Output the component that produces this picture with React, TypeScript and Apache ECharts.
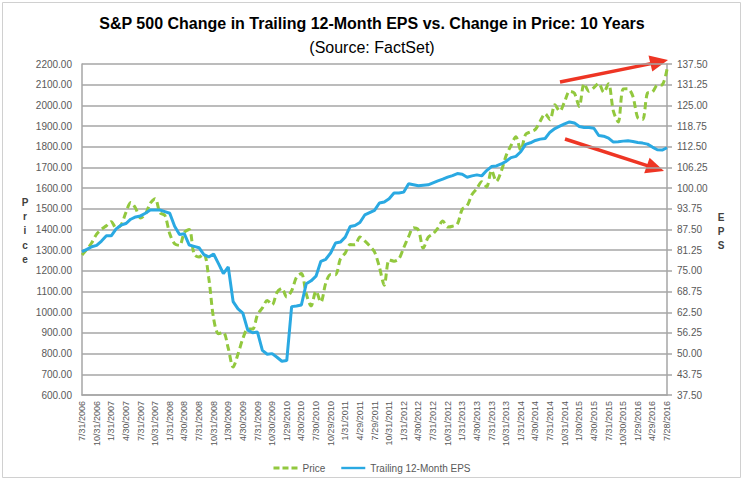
import React, { useEffect, useRef } from "react";
import * as echarts from "echarts";

// Quarter-end tick labels shown on the category axis
const quarterLabels: string[] = [
  "7/31/2006", "10/31/2006", "1/31/2007", "4/30/2007", "7/31/2007", "10/31/2007",
  "1/31/2008", "4/30/2008", "7/31/2008", "10/31/2008", "1/30/2009", "4/30/2009",
  "7/31/2009", "10/30/2009", "1/29/2010", "4/30/2010", "7/30/2010", "10/29/2010",
  "1/31/2011", "4/29/2011", "7/29/2011", "10/31/2011", "1/31/2012", "4/30/2012",
  "7/31/2012", "10/31/2012", "1/31/2013", "4/30/2013", "7/31/2013", "10/31/2013",
  "1/31/2014", "4/30/2014", "7/31/2014", "10/31/2014", "1/30/2015", "4/30/2015",
  "7/31/2015", "10/30/2015", "1/29/2016", "4/29/2016", "7/28/2016",
];

// Monthly S&P 500 price (left axis)
const price: number[] = [
  1277, 1304, 1336, 1378, 1401, 1418,
  1438, 1407, 1421, 1482, 1531, 1503, 1455, 1474, 1527, 1549, 1481, 1468,
  1379, 1331, 1323, 1386, 1400, 1280, 1267, 1283, 1166, 969, 896, 903,
  826, 735, 798, 873, 919, 919, 988, 1021, 1057, 1036, 1096, 1115,
  1074, 1104, 1169, 1187, 1089, 1031, 1102, 1049, 1141, 1183, 1181, 1258,
  1286, 1327, 1326, 1364, 1345, 1321, 1292, 1219, 1131, 1253, 1247, 1258,
  1312, 1366, 1409, 1398, 1310, 1362, 1379, 1407, 1441, 1412, 1416, 1426,
  1498, 1515, 1569, 1598, 1631, 1606, 1686, 1633, 1682, 1757, 1806, 1848,
  1783, 1860, 1872, 1884, 1924, 1960, 1931, 2003, 1972, 2018, 2068, 2059,
  1995, 2105, 2068, 2086, 2107, 2063, 2104, 1972, 1920, 2079, 2080, 2044,
  1940, 1932, 2060, 2065, 2097, 2099, 2174,
];

// Monthly trailing 12-month EPS (right axis)
const eps: number[] = [
  80.8, 81.5, 82.3, 82.7, 84.0, 85.6,
  85.6, 87.7, 88.8, 89.3, 90.6, 91.3, 91.6, 92.4, 93.4, 93.4, 93.4, 92.9,
  92.4, 88.5, 86.0, 86.2, 82.8, 82.4, 82.0, 79.9, 79.2, 80.1, 77.2, 74.2,
  76.2, 65.7, 63.5, 62.2, 57.1, 56.3, 56.5, 51.0, 49.8, 50.0, 48.9, 47.7,
  47.9, 64.2, 64.4, 64.7, 71.1, 72.0, 73.4, 77.9, 78.5, 80.4, 83.4, 83.7,
  85.2, 88.4, 88.7, 89.6, 91.9, 92.6, 93.3, 95.5, 95.8, 96.8, 98.5, 98.5,
  98.8, 101.3, 101.0, 100.7, 100.9, 101.0, 101.6, 102.2, 102.7, 103.3, 103.8, 104.4,
  104.2, 103.3, 103.7, 104.0, 103.7, 105.3, 106.5, 106.7, 107.3, 108.1, 109.2, 109.6,
  111.0, 113.2, 113.7, 114.4, 114.8, 115.0, 116.9, 118.0, 118.7, 119.4, 120.0, 119.7,
  118.6, 118.3, 118.3, 118.1, 115.9, 115.7, 115.1, 113.9, 114.0, 114.2, 114.3, 114.1,
  113.8, 113.6, 113.3, 112.4, 111.6, 111.5, 112.2,
];

const seriesNames = ["Price", "Trailing 12-Month EPS"];

function buildCategories(): string[] {
  const cats: string[] = [];
  for (let q = 0; q < quarterLabels.length; q++) {
    cats.push(quarterLabels[q]);
    if (q < quarterLabels.length - 1) {
      const parts = quarterLabels[q].split("/").map(Number);
      const m = parts[0];
      const y = parts[2];
      for (let k = 1; k <= 2; k++) {
        let mm = m + k;
        let yy = y;
        if (mm > 12) {
          mm -= 12;
          yy += 1;
        }
        const last = new Date(yy, mm, 0).getDate();
        cats.push(`${mm}/${last}/${yy}`);
      }
    }
  }
  return cats;
}

const GREEN = "#92C83E";
const BLUE = "#2AA9E2";
const RED = "#EE3524";
const GRID = "#A6A6A6";
const LABEL = "#595959";
const FONT = "Liberation Sans";

const DASH_ICON = "path://M0,0h6v3h-6z M9,0h6v3h-6z M18,0h6v3h-6z";
const SOLID_ICON = "path://M0,0h30v3h-30z";

export default function App() {
  const ref = useRef<HTMLDivElement>(null);

  useEffect(() => {
    if (!ref.current) return;
    const chart = echarts.init(ref.current, undefined, { renderer: "svg" });
    const categories = buildCategories();

    const option: any = {
      animation: false,
      backgroundColor: "#ffffff",
      title: [
        {
          text: "S&P 500 Change in Trailing 12-Month EPS vs. Change in Price: 10 Years",
          left: "center",
          top: 10,
          textStyle: { fontFamily: FONT, fontWeight: "bold", fontSize: 16, color: "#000000" },
        },
        {
          text: "(Source: FactSet)",
          left: "center",
          top: 34,
          textStyle: { fontFamily: FONT, fontWeight: "normal", fontSize: 16, color: "#000000" },
        },
      ],
      legend: {
        data: [
          { name: seriesNames[0], icon: DASH_ICON, itemStyle: { color: GREEN } },
          { name: seriesNames[1], icon: SOLID_ICON, itemStyle: { color: BLUE } },
        ],
        left: "center",
        top: 458,
        itemWidth: 24,
        itemHeight: 3,
        itemGap: 16,
        textStyle: { fontFamily: FONT, fontSize: 10, color: LABEL },
      },
      grid: { left: 82, right: 77, top: 64, bottom: 86, containLabel: false },
      xAxis: {
        type: "category",
        data: categories,
        boundaryGap: false,
        axisLine: { show: true, lineStyle: { color: GRID, width: 1.5 } },
        axisTick: { show: false },
        axisLabel: {
          interval: 2,
          rotate: 90,
          fontFamily: FONT,
          fontSize: 9,
          color: LABEL,
          margin: 6,
        },
        splitLine: { show: false },
      },
      yAxis: [
        {
          type: "value",
          min: 600,
          max: 2200,
          interval: 100,
          position: "left",
          axisLine: { show: true, lineStyle: { color: GRID, width: 1.5 } },
          axisTick: { show: false },
          axisLabel: {
            formatter: (v: number) => v.toFixed(2),
            fontFamily: FONT,
            fontSize: 10,
            color: LABEL,
            margin: 10,
          },
          splitLine: { show: true, lineStyle: { color: GRID, width: 1.5 } },
        },
        {
          type: "value",
          min: 37.5,
          max: 137.5,
          interval: 6.25,
          position: "right",
          axisLine: { show: true, lineStyle: { color: GRID, width: 1.5 } },
          axisTick: { show: true, length: 5, lineStyle: { color: GRID, width: 1.5 } },
          axisLabel: {
            formatter: (v: number) => v.toFixed(2),
            fontFamily: FONT,
            fontSize: 10,
            color: LABEL,
            margin: 10,
          },
          splitLine: { show: false },
        },
      ],
      series: [
        {
          name: seriesNames[0],
          type: "line",
          yAxisIndex: 0,
          data: price,
          symbol: "none",
          showSymbol: false,
          smooth: 0.3,
          lineStyle: { color: GREEN, width: 3, type: [7, 4] },
          itemStyle: { color: GREEN },
        },
        {
          name: seriesNames[1],
          type: "line",
          yAxisIndex: 1,
          data: eps,
          symbol: "none",
          showSymbol: false,
          lineStyle: { color: BLUE, width: 3 },
          itemStyle: { color: BLUE },
        },
      ],
      graphic: [
        {
          type: "rect",
          shape: { x: 2.5, y: 2.5, width: 738, height: 475 },
          style: { fill: "none", stroke: "#D0D0D0", lineWidth: 1 },
          silent: true,
        },
        {
          type: "text",
          x: 25,
          y: 195,
          style: {
            text: "P\nr\ni\nc\ne",
            fontFamily: FONT,
            fontWeight: "bold",
            fontSize: 10,
            lineHeight: 14.3,
            textAlign: "center",
            textVerticalAlign: "top",
            fill: "#404040",
          },
        },
        {
          type: "text",
          x: 721,
          y: 210,
          style: {
            text: "E\nP\nS",
            fontFamily: FONT,
            fontWeight: "bold",
            fontSize: 10,
            lineHeight: 14.35,
            textAlign: "center",
            textVerticalAlign: "top",
            fill: "#404040",
          },
        },
        {
          type: "line",
          shape: { x1: 560, y1: 82, x2: 651, y2: 63.6 },
          style: { stroke: RED, lineWidth: 3.5 },
        },
        {
          type: "polygon",
          shape: { points: [[668, 60], [652.3, 71.6], [648.5, 55.6]] },
          style: { fill: RED },
        },
        {
          type: "line",
          shape: { x1: 565, y1: 139, x2: 648, y2: 165.8 },
          style: { stroke: RED, lineWidth: 3.5 },
        },
        {
          type: "polygon",
          shape: { points: [[664, 171], [644.2, 173.3], [649.6, 157.7]] },
          style: { fill: RED },
        },
      ],
    };

    chart.setOption(option);
    return () => chart.dispose();
  }, []);

  return (
    <div
      ref={ref}
      style={{ position: "fixed", left: 0, top: 0, width: 744, height: 481 }}
    />
  );
}
